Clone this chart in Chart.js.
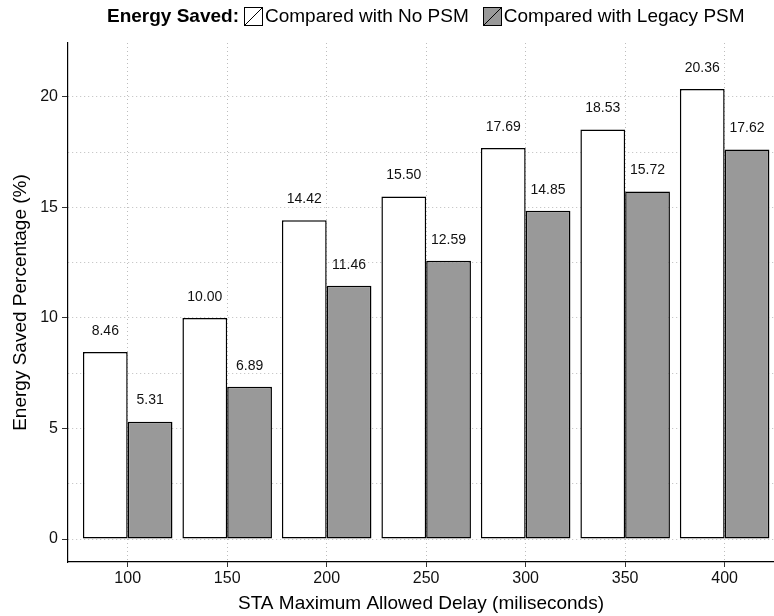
<!DOCTYPE html>
<html>
<head>
<meta charset="utf-8">
<script src="https://cdn.jsdelivr.net/npm/chart.js@4.4.1/dist/chart.umd.min.js"></script>
<style>
  html, body { margin: 0; padding: 0; background: #fff; overflow: hidden; }
  #chart { display: block; }
</style>
</head>
<body>
<canvas id="chart" width="774" height="616"></canvas>
<script>
const delays = [100, 150, 200, 250, 300, 350, 400];
const savedVsNoPsm = [8.46, 10.00, 14.42, 15.50, 17.69, 18.53, 20.36];
const savedVsLegacy = [5.31, 6.89, 11.46, 12.59, 14.85, 15.72, 17.62];
const yGrid = [0, 2.5, 5, 7.5, 10, 12.5, 15, 17.5, 20];
const seriesNames = ['Compared with No PSM', 'Compared with Legacy PSM'];
const legendTitle = 'Energy Saved:';

const FONT = '"Liberation Sans", Arial, Helvetica, sans-serif';
const fills = ['#ffffff', '#999999'];

// value labels over each bar
const barLabels = {
    id: 'barLabels',
    afterDatasetsDraw(chart) {
        const ctx = chart.ctx;
        ctx.save();
        ctx.font = '14px ' + FONT;
        ctx.fillStyle = '#111';
        ctx.textAlign = 'center';
        ctx.textBaseline = 'middle';
        chart.data.datasets.forEach((ds, i) => {
            chart.getDatasetMeta(i).data.forEach((bar, j) => {
                ctx.fillText(ds.data[j].y.toFixed(2), bar.x, bar.y - 21);
            });
        });
        ctx.restore();
    }
};

// ggplot style legend on top, centred on the panel, with slashed keys
const topLegend = {
    id: 'topLegend',
    afterDraw(chart) {
        const ctx = chart.ctx;
        const box = 19, cy = 16.5;
        ctx.save();
        ctx.textBaseline = 'middle';
        ctx.textAlign = 'left';
        ctx.font = 'bold 19px ' + FONT;
        const wTitle = ctx.measureText(legendTitle).width;
        ctx.font = '19px ' + FONT;
        const wLab = seriesNames.map(s => ctx.measureText(s).width);
        const total = wTitle + 5 + (box + 2) * 2 + wLab[0] + 14 + wLab[1];
        let x = Math.round(426 - total / 2);
        ctx.fillStyle = '#000';
        ctx.font = 'bold 19px ' + FONT;
        ctx.fillText(legendTitle, x, cy);
        x += wTitle + 5;
        ctx.font = '19px ' + FONT;
        seriesNames.forEach((name, i) => {
            const bx = Math.round(x), top = Math.round(cy - box / 2);
            ctx.fillStyle = fills[i];
            ctx.fillRect(bx, top, box, box);
            ctx.strokeStyle = '#000';
            ctx.lineWidth = 1;
            ctx.strokeRect(bx + 0.5, top + 0.5, box - 1, box - 1);
            ctx.beginPath();
            ctx.moveTo(bx + 1, top + box - 1);
            ctx.lineTo(bx + box - 1, top + 1);
            ctx.stroke();
            x += box + 2;
            ctx.fillStyle = '#000';
            ctx.fillText(name, x, cy);
            x += wLab[i] + 14;
        });
        ctx.restore();
    }
};

const gridColor = '#bdbdbd';

new Chart(document.getElementById('chart'), {
    type: 'bar',
    data: {
        datasets: [
            {
                label: seriesNames[0],
                data: delays.map((d, i) => ({x: d, y: savedVsNoPsm[i]})),
                backgroundColor: fills[0],
                borderColor: '#000',
                borderWidth: 1.5,
                borderSkipped: false
            },
            {
                label: seriesNames[1],
                data: delays.map((d, i) => ({x: d, y: savedVsLegacy[i]})),
                backgroundColor: fills[1],
                borderColor: '#000',
                borderWidth: 1.5,
                borderSkipped: false
            }
        ]
    },
    options: {
        responsive: false,
        animation: false,
        devicePixelRatio: 1,
        layout: { padding: { top: 43, left: 0, right: 0, bottom: 0 } },
        datasets: { bar: { categoryPercentage: 0.9, barPercentage: 1 } },
        plugins: {
            legend: { display: false },
            tooltip: { enabled: false }
        },
        scales: {
            x: {
                type: 'linear',
                offset: false,
                min: 70,
                max: 424.8,
                afterBuildTicks: s => { s.ticks = delays.map(v => ({value: v})); },
                afterFit: s => { s.height = 54; },
                grid: {
                    offset: false,
                    color: gridColor,
                    lineWidth: 1,
                    tickLength: 5,
                    tickColor: '#333',
                    tickBorderDash: []
                },
                border: { display: true, color: '#000', width: 1.2, dash: [1, 3] },
                ticks: {
                    autoSkip: false,
                    maxRotation: 0,
                    padding: 2,
                    color: '#111',
                    font: { family: FONT, size: 16 },
                    callback: v => String(v)
                },
                title: {
                    display: true,
                    text: 'STA Maximum Allowed Delay (miliseconds)',
                    color: '#000',
                    font: { family: FONT, size: 19 },
                    padding: { top: 0, bottom: 1 }
                }
            },
            y: {
                min: -1.04,
                max: 22.44,
                afterBuildTicks: s => { s.ticks = yGrid.map(v => ({value: v})); },
                afterFit: s => { s.width = 68; },
                grid: {
                    color: gridColor,
                    lineWidth: 1,
                    tickLength: 6,
                    tickColor: c => (c.tick && c.tick.value % 5 === 0) ? '#333' : 'rgba(0,0,0,0)',
                    tickBorderDash: []
                },
                border: { display: true, color: '#000', width: 1.2, dash: [1, 3] },
                ticks: {
                    autoSkip: false,
                    padding: 4,
                    color: '#111',
                    font: { family: FONT, size: 16 },
                    callback: v => (v % 5 === 0 ? String(v) : '')
                },
                title: {
                    display: true,
                    text: 'Energy Saved Percentage (%)',
                    color: '#000',
                    font: { family: FONT, size: 19 },
                    padding: { top: 9, bottom: 0 }
                }
            }
        }
    },
    plugins: [barLabels, topLegend]
});
</script>
</body>
</html>
